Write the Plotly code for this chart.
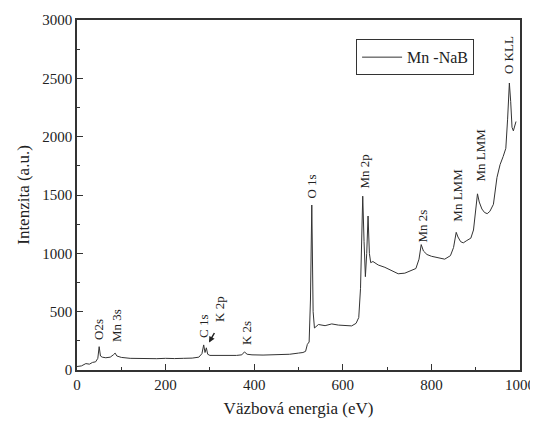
import plotly.graph_objects as go

# binding energy (eV) and intensity (a.u.)
energy = [0, 10, 20, 28, 35, 42, 47, 50, 53, 57, 65, 75, 82, 86, 90, 100, 120, 140,
          160, 180, 200, 210, 220, 240, 260, 275, 282, 286, 289, 292, 295, 300, 320,
          340, 360, 372, 378, 384, 395, 420, 450, 480, 500, 510, 516, 520, 524, 527,
          530, 533, 536, 545, 560, 575, 590, 605, 620, 630, 636, 640, 643, 645, 648,
          651, 654, 657, 660, 663, 668, 680, 695, 710, 725, 740, 755, 765, 772, 777,
          782, 790, 800, 815, 830, 843, 850, 856, 860, 866, 872, 880, 889, 895, 900,
          904, 908, 914, 920, 926, 932, 940, 948, 955, 962, 968, 972, 976, 979, 982,
          985, 988, 991]
intensity = [30, 35, 55, 50, 65, 70, 100, 200, 120, 110, 105, 110, 130, 145, 120, 108,
             100, 98, 100, 97, 100, 102, 98, 100, 102, 110, 140, 215, 150, 190, 135,
             125, 125, 122, 125, 130, 155, 135, 130, 128, 130, 135, 145, 150, 160, 220,
             240, 600, 1414, 500, 360, 390, 380, 395, 385, 380, 378, 400, 450, 700,
             1300, 1490, 1100, 800, 1000, 1320, 1000, 920, 930, 900, 880, 850, 825,
             830, 850, 870, 950, 1075, 1020, 990, 975, 960, 950, 980, 1050, 1180, 1140,
             1100, 1090, 1110, 1130, 1200, 1380, 1510, 1440, 1380, 1350, 1340, 1360,
             1420, 1650, 1760, 1830, 1900, 2150, 2460, 2300, 2080, 2050, 2100, 2130]

# peak labels: text, x, y (label centre)
peak_labels = ["O2s", "Mn 3s", "C 1s", "K 2p", "K 2s", "O 1s", "Mn 2p", "Mn 2s",
               "Mn LMM", "Mn LMM", "O KLL"]
label_x = [50, 88, 287, 322, 381, 530, 650, 780, 857, 913, 973]
label_y = [345, 385, 370, 520, 315, 1570, 1700, 1235, 1500, 1843, 2700]

font_family = "Liberation Serif"

fig = go.Figure()
fig.add_trace(go.Scatter(
    x=energy, y=intensity, mode="lines", name="Mn -NaB",
    line=dict(color="#333333", width=1),
))

for text, lx, ly in zip(peak_labels, label_x, label_y):
    fig.add_annotation(
        x=lx, y=ly, text=text, textangle=-90, showarrow=False,
        font=dict(family=font_family, size=13, color="#222222"),
    )

# small arrow from K 2p label to the peak
fig.add_annotation(
    x=298, y=235, ax=312, ay=330, xref="x", yref="y", axref="x", ayref="y",
    text="", showarrow=True, arrowhead=2, arrowsize=0.8, arrowwidth=1.5,
    arrowcolor="#222222",
)

# the page body adds an 8px margin, so the figure is a bit smaller than the window
fig.update_layout(
    width=530, height=411,
    margin=dict(l=69, r=18, t=12, b=49),
    plot_bgcolor="white", paper_bgcolor="white",
    font=dict(family=font_family, size=15, color="#222222"),
    showlegend=True,
    legend=dict(
        x=0.63, y=0.945, xanchor="left", yanchor="top",
        bordercolor="#333333", borderwidth=1, bgcolor="white",
        font=dict(family=font_family, size=16),
        itemwidth=40,
    ),
)
fig.update_xaxes(
    range=[0, 1000], tickvals=[0, 200, 400, 600, 800, 1000],
    ticks="inside", ticklen=6, tickcolor="#333333",
    minor=dict(ticks="inside", ticklen=3, dtick=100, tickcolor="#333333"),
    showline=True, linecolor="#333333", linewidth=1.5, mirror=True,
    showgrid=False, zeroline=False, automargin=False,
    title=dict(text="Väzbová energia (eV)", font=dict(size=17), standoff=10),
)
fig.update_yaxes(
    range=[0, 3000], tickvals=[0, 500, 1000, 1500, 2000, 2500, 3000],
    ticks="inside", ticklen=6, tickcolor="#333333",
    minor=dict(ticks="inside", ticklen=3, dtick=250, tickcolor="#333333"),
    showline=True, linecolor="#333333", linewidth=1.5, mirror=True,
    showgrid=False, zeroline=False, automargin=False,
    title=dict(text="Intenzita (a.u.)", font=dict(size=17), standoff=8),
)

fig.write_html("out.html")
